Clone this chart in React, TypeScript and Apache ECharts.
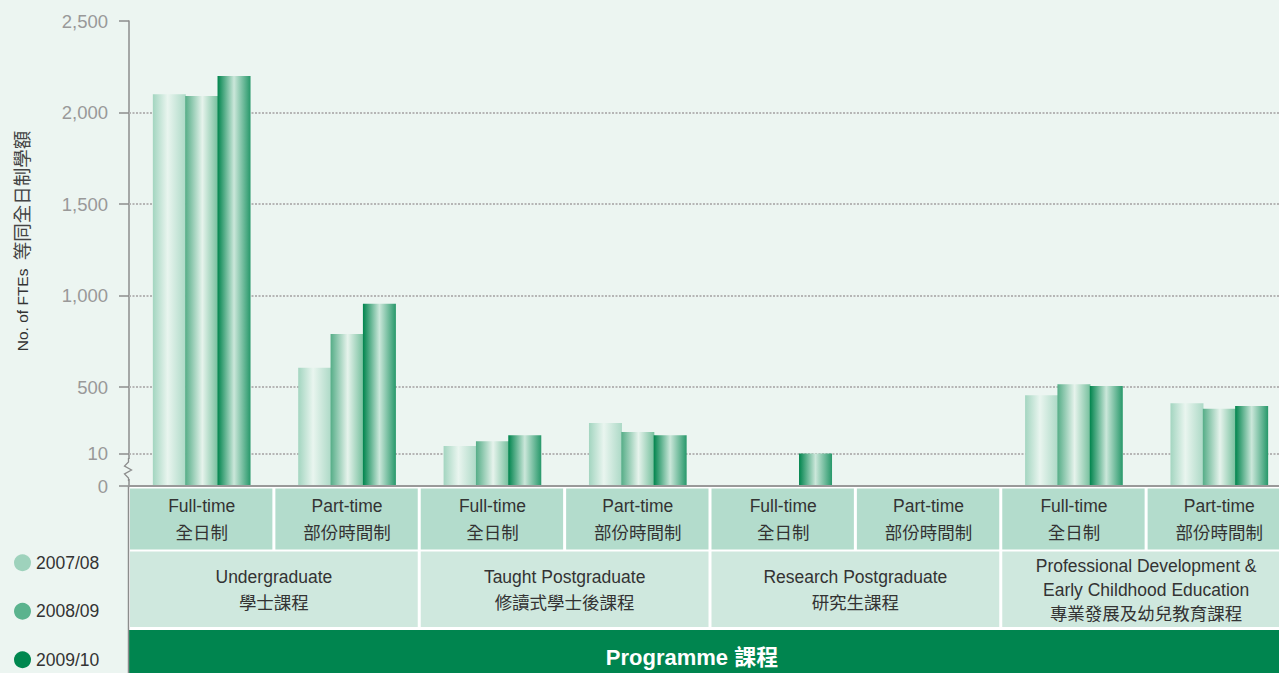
import React, { useEffect, useRef } from "react";
import * as echarts from "echarts";

const CATEGORIES = [
  "Full-time\n全日制",
  "Part-time\n部份時間制",
  "Full-time\n全日制",
  "Part-time\n部份時間制",
  "Full-time\n全日制",
  "Part-time\n部份時間制",
  "Full-time\n全日制",
  "Part-time\n部份時間制",
];
const GROUPS = [
  "Undergraduate\n學士課程",
  "Taught Postgraduate\n修讀式學士後課程",
  "Research Postgraduate\n研究生課程",
  "Professional Development &\nEarly Childhood Education\n專業發展及幼兒教育課程",
];
const GROUP_SPAN = 2;
const SERIES_NAMES = ["2007/08", "2008/09", "2009/10"];
const VALUES_0708 = [2100, 605, 65, 235, 0, 0, 440, 380];
const VALUES_0809 = [2090, 790, 100, 168, 0, 0, 515, 340];
const VALUES_0910 = [2200, 955, 145, 145, 10, 0, 505, 360];
const Y_TICKS = [0, 10, 500, 1000, 1500, 2000, 2500];
const GRID_LINES = [10, 500, 1000, 1500, 2000];
const Y_TITLE_EN = "No. of FTEs";
const Y_TITLE_ZH = "等同全日制學額";
const FOOTER = "Programme 課程";

// broken-axis scale: 0-10 stretched, 10-500 compressed, 500+ linear
const BREAK_LOW = 10;
const BREAK_HIGH = 500;
function tr(v: number): number {
  if (v <= BREAK_LOW) return v * 3.25;
  if (v <= BREAK_HIGH) return 32.5 + (v - BREAK_LOW) * (66.5 / 490);
  return 99 + (v - BREAK_HIGH) * 0.183;
}

const FONT = '"Liberation Sans", "Noto Sans CJK TC", sans-serif';
const BG = "#ecf5f1";
const LEGEND_COLORS = ["#9ed2bc", "#5bb38e", "#00874f"];
const GRADIENTS = [
  [
    [0, "#a3d5c0"],
    [0.45, "#e9f5ef"],
    [1, "#acd9c6"],
  ],
  [
    [0, "#55ad87"],
    [0.52, "#e6f3ec"],
    [1, "#74bf9c"],
  ],
  [
    [0, "#00844d"],
    [0.5, "#cbe7da"],
    [1, "#27986a"],
  ],
];

export default function App() {
  const ref = useRef<HTMLDivElement>(null);
  useEffect(() => {
    if (!ref.current) return;
    const chart = echarts.init(ref.current, null, { renderer: "svg" });
    const seriesValues = [VALUES_0708, VALUES_0809, VALUES_0910];
    const tickPos = Y_TICKS.map(tr);
    const option: any = {
      animation: false,
      backgroundColor: BG,
      textStyle: { fontFamily: FONT },
      grid: { left: 129, right: 0, top: 21, bottom: 187, containLabel: false },
      legend: {
        orient: "vertical",
        left: 14,
        top: 554,
        padding: 0,
        itemGap: 31,
        itemWidth: 17,
        itemHeight: 17,
        icon: "circle",
        textStyle: { fontSize: 17.5, color: "#333", fontFamily: FONT },
        data: SERIES_NAMES.map((n, i) => ({ name: n, itemStyle: { color: LEGEND_COLORS[i] } })),
      },
      xAxis: {
        type: "category",
        data: CATEGORIES,
        z: 10,
        axisLine: { show: true, lineStyle: { color: "#999", width: 2 } },
        axisTick: { show: false },
        axisLabel: {
          interval: 0,
          margin: 6,
          fontSize: 17.5,
          lineHeight: 27,
          color: "#333",
          fontFamily: FONT,
        },
      },
      yAxis: {
        type: "value",
        min: 0,
        max: tr(2500),
        axisLine: { show: true, lineStyle: { color: "#8c8c8c", width: 1.5 } },
        axisTick: {
          show: true,
          length: 10,
          customValues: tickPos,
          lineStyle: { color: "#8c8c8c", width: 1.5 },
        },
        axisLabel: {
          customValues: tickPos,
          margin: 21,
          fontSize: 18.5,
          color: "#999",
          fontFamily: FONT,
          formatter: (val: number) => {
            const idx = tickPos.findIndex((p) => Math.abs(p - val) < 1e-6);
            return idx >= 0 ? Y_TICKS[idx].toLocaleString("en-US") : "";
          },
        },
        splitLine: { show: false },
      },
      series: SERIES_NAMES.map((name, si) => ({
        name,
        type: "bar",
        z: 2,
        barWidth: 33,
        barGap: "-2%",
        data: seriesValues[si].map((v) => tr(v)),
        itemStyle: {
          color: new echarts.graphic.LinearGradient(
            0,
            0,
            1,
            0,
            GRADIENTS[si].map(([o, c]) => ({ offset: o as number, color: c as string }))
          ),
        },
        markLine:
          si === 0
            ? {
                silent: true,
                z: 1,
                symbol: "none",
                label: { show: false },
                lineStyle: { color: "#b5b5b5", width: 2, type: [2, 1.5] },
                data: GRID_LINES.map((g) => ({ yAxis: tr(g) })),
              }
            : undefined,
      })),
    };
    chart.setOption(option);

    const centers = CATEGORIES.map((_, i) => chart.convertToPixel({ xAxisIndex: 0 }, i) as number);
    const band = centers[1] - centers[0];
    const left = centers[0] - band / 2;
    const fullW = 1300 - left;
    const els: any[] = [];
    els.push({ type: "rect", z: 1, shape: { x: left, y: 487, width: fullW, height: 190 }, style: { fill: "#fff" } });
    centers.forEach((c) => {
      els.push({
        type: "rect",
        z: 2,
        shape: { x: c - band / 2 + 1, y: 488.5, width: band - 3, height: 61 },
        style: { fill: "#b3dccc" },
      });
    });
    GROUPS.forEach((g, gi) => {
      const c0 = centers[gi * GROUP_SPAN];
      const x0 = c0 - band / 2 + 1;
      const w = band * GROUP_SPAN - 3;
      els.push({
        type: "rect",
        z: 2,
        shape: { x: x0, y: 551.5, width: w, height: 75.5 },
        style: { fill: "#cfe8de" },
      });
      els.push({
        type: "text",
        z: 3,
        x: x0 + w / 2,
        y: 589.5,
        style: {
          text: g,
          fill: "#333",
          font: `17.5px ${FONT}`,
          lineHeight: g.split("\n").length > 2 ? 24 : 26,
          align: "center",
          verticalAlign: "middle",
        },
      });
    });
    els.push({ type: "rect", z: 2, shape: { x: left, y: 630, width: fullW, height: 50 }, style: { fill: "#00854f" } });
    els.push({
      type: "text",
      z: 3,
      x: 692,
      y: 657,
      style: {
        text: FOOTER,
        fill: "#fff",
        font: `bold 22px ${FONT}`,
        align: "center",
        verticalAlign: "middle",
      },
    });
    els.push({
      type: "line",
      z: 3,
      shape: { x1: 128.5, y1: 486, x2: 128.5, y2: 673 },
      style: { stroke: "#8c8c8c", lineWidth: 1.5 },
    });
    // axis break marker
    els.push({ type: "rect", z: 5, shape: { x: 125, y: 459, width: 8, height: 20 }, style: { fill: BG } });
    els.push({
      type: "polyline",
      z: 6,
      shape: {
        points: [
          [128.5, 458],
          [128.5, 462],
          [124.5, 466],
          [131.5, 470],
          [124.5, 474],
          [128.5, 478],
          [128.5, 481],
        ],
      },
      style: { stroke: "#8c8c8c", lineWidth: 1.3, fill: null },
    });
    els.push({
      type: "text",
      z: 3,
      x: 22,
      y: 241,
      rotation: Math.PI / 2,
      style: {
        text: `{en|${Y_TITLE_EN}}  {zh|${Y_TITLE_ZH}}`,
        fill: "#333",
        font: `15px ${FONT}`,
        align: "center",
        verticalAlign: "middle",
        rich: {
          en: { fontSize: 15.5, fill: "#333", fontFamily: FONT },
          zh: { fontSize: 18.5, fill: "#444", fontFamily: FONT },
        },
      },
    });
    chart.setOption({ graphic: { elements: els } });
    return () => chart.dispose();
  }, []);

  return (
    <div
      style={{
        position: "fixed",
        left: 0,
        top: 0,
        width: 1279,
        height: 673,
        overflow: "hidden",
        background: BG,
      }}
    >
      <div ref={ref} style={{ width: 1292, height: 673 }} />
    </div>
  );
}
